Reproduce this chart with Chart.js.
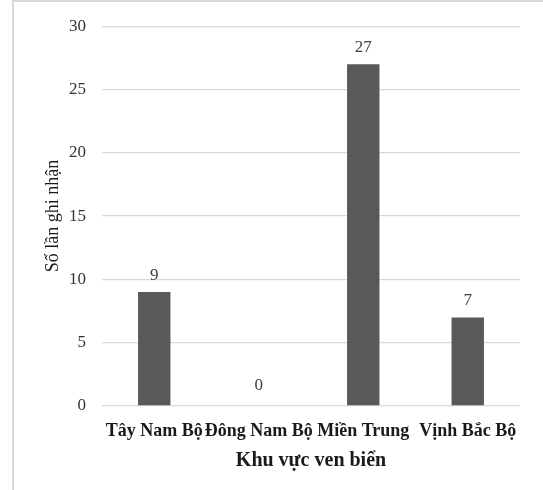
<!DOCTYPE html>
<html lang="vi">
<head>
  <meta charset="UTF-8">
  <title>Số lần ghi nhận theo khu vực</title>
  <script src="https://cdn.jsdelivr.net/npm/chart.js"></script>
  <style>
    html, body { margin: 0; padding: 0; background: #fff; }
    .khung {
      position: absolute; left: 12px; top: 0px; width: 531px; height: 490px;
      border-left: 2px solid #d9d9d9; border-top: 2px solid #d9d9d9;
    }
    .bieudo { position: absolute; left: 0; top: 0; width: 543px; height: 490px; }
  </style>
</head>
<body>
<div class="khung"></div>
<div class="bieudo">
  <canvas id="myChart" width="543" height="490"></canvas>
</div>
<script>
  // du lieu doc tu hinh
  var khuVuc = ['Tây Nam Bộ', 'Đông Nam Bộ', 'Miền Trung', 'Vịnh Bắc Bộ'];
  var soLan = [9, 0, 27, 7];
  var mocTruc = [0, 5, 10, 15, 20, 25, 30];

  // ghi so len dau moi cot
  var nhanCot = {
    id: 'nhanCot',
    afterDatasetsDraw: function (chart) {
      var ctx = chart.ctx;
      var meta = chart.getDatasetMeta(0);
      ctx.save();
      ctx.font = '17px "Liberation Serif"';
      ctx.fillStyle = '#404040';
      ctx.textAlign = 'center';
      ctx.textBaseline = 'bottom';
      meta.data.forEach(function (bar, i) {
        var dy = soLan[i] === 0 ? 12 : 8;
        ctx.fillText(soLan[i], bar.x, bar.y - dy);
      });
      ctx.restore();
    }
  };

  const config = {
    type: 'bar',
    data: {
      labels: khuVuc,
      datasets: [{
        label: 'Số lần ghi nhận',
        data: soLan,
        backgroundColor: '#595959',
        borderWidth: 0,
        categoryPercentage: 1,
        barPercentage: 0.31
      }]
    },
    options: {
      responsive: false,
      animation: false,
      layout: { padding: { left: 42, right: 23, top: 25, bottom: 0 } },
      plugins: { legend: { display: false }, tooltip: { enabled: false } },
      scales: {
        x: {
          grid: { display: false },
          border: { display: false },
          ticks: {
            color: '#1a1a1a',
            font: { family: 'Liberation Serif', size: 18, weight: 'bold' },
            padding: 7,
            maxRotation: 0,
            autoSkip: false
          },
          title: {
            display: true,
            text: 'Khu vực ven biển',
            color: '#1a1a1a',
            font: { family: 'Liberation Serif', size: 20, weight: 'bold' },
            padding: { top: 4, bottom: 17 }
          },
          afterFit: function (scale) { scale.height = 84; }
        },
        y: {
          min: 0,
          max: 30,
          afterBuildTicks: function (scale) {
            scale.ticks = mocTruc.map(function (v) { return { value: v }; });
          },
          grid: { color: '#d9d9d9', lineWidth: 1.3, drawTicks: false },
          border: { display: false },
          ticks: {
            color: '#333333',
            font: { family: 'Liberation Serif', size: 17 },
            padding: 16
          },
          title: {
            display: true,
            text: 'Số lần ghi nhận',
            color: '#1a1a1a',
            font: { family: 'Liberation Serif', size: 18 },
            padding: 0
          },
          afterFit: function (scale) { scale.width = 60; }
        }
      }
    },
    plugins: [nhanCot]
  };

  let myChart = new Chart(document.getElementById('myChart'), config);
</script>
</body>
</html>
